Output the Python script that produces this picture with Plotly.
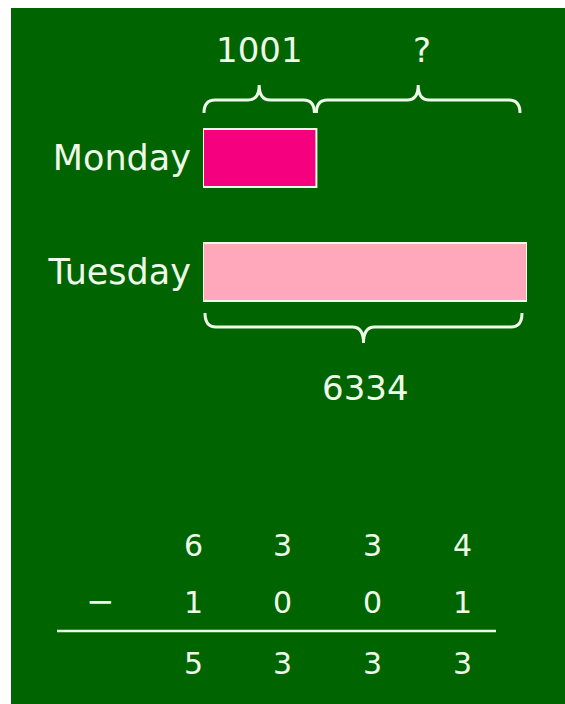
import plotly.graph_objects as go

# ---- data ----
days = ["Monday", "Tuesday"]
day_values = [1001, 6334]          # numbers shown on the braces
bar_units = [3.5, 10.0]            # schematic bar lengths as drawn (not to scale)
bar_colors = ["#f5007f", "#ffa8bb"]
brace_labels = ["1001", "?"]
total_label = "6334"
row_top = ["6", "3", "3", "4"]
row_mid = ["1", "0", "0", "1"]
row_res = ["5", "3", "3", "3"]
op_sign = "\u2212"

W, H = 565, 704
GREEN = "#006400"
CREAM = "#eefbe8"
FONT = "DejaVu Sans"

# bar axis geometry (pixels)
BX0, BX1 = 203, 527
BY0, BY1 = 101, 329
UNIT_MAX = 10.0
px_per_unit = (BX1 - BX0) / UNIT_MAX

fig = go.Figure()
fig.add_trace(go.Bar(
    y=days, x=bar_units, orientation="h",
    marker=dict(color=bar_colors, line=dict(color=CREAM, width=2)),
    xaxis="x2", yaxis="y2", hoverinfo="skip", showlegend=False,
))

def brace(x0, x1, yend, yh, ytip, r=11):
    xm = (x0 + x1) / 2
    return (f"M {x0},{yend} Q {x0},{yh} {x0 + r},{yh} L {xm - r},{yh} "
            f"Q {xm},{yh} {xm},{ytip} Q {xm},{yh} {xm + r},{yh} "
            f"L {x1 - r},{yh} Q {x1},{yh} {x1},{yend}")

mon_end = BX0 + bar_units[0] * px_per_unit
tue_end = BX0 + bar_units[1] * px_per_unit

shapes = [dict(type="rect", xref="x", yref="y", x0=11, x1=W, y0=8, y1=H,
               fillcolor=GREEN, line=dict(width=0), layer="below")]
bline = dict(color=CREAM, width=3)
shapes.append(dict(type="path", xref="x", yref="y",
                   path=brace(BX0 + 1, mon_end - 2, 113, 100, 85), line=bline))
shapes.append(dict(type="path", xref="x", yref="y",
                   path=brace(mon_end, tue_end - 7, 113, 100, 85), line=bline))
shapes.append(dict(type="path", xref="x", yref="y",
                   path=brace(BX0 + 2, tue_end - 5, 313, 327, 343), line=bline))
shapes.append(dict(type="line", xref="x", yref="y", x0=57, x1=496, y0=631, y1=631,
                   line=dict(color=CREAM, width=2.5)))

ann = []
big = dict(family=FONT, size=34, color=CREAM)
dig = dict(family=FONT, size=30, color=CREAM)
ann.append(dict(x=(BX0 + mon_end) / 2, y=50, text=brace_labels[0]))
ann.append(dict(x=(mon_end + tue_end) / 2, y=50, text=brace_labels[1]))
ann.append(dict(x=(BX0 + tue_end) / 2, y=388, text=total_label))
for a in ann:
    a.update(xref="x", yref="y", showarrow=False, font=big)

col_x0, col_step = 193, 89.7
for row, yy in ((row_top, 545), (row_mid, 602), (row_res, 663)):
    for i, d in enumerate(row):
        ann.append(dict(x=col_x0 + i * col_step, y=yy, text=d, xref="x", yref="y",
                        showarrow=False, font=dig))
ann.append(dict(x=100, y=601, text=op_sign, xref="x", yref="y",
                showarrow=False, font=dict(family=FONT, size=34, color=CREAM)))

fig.update_layout(
    width=W, height=H,
    margin=dict(l=0, r=0, t=0, b=0),
    paper_bgcolor="white", plot_bgcolor="rgba(0,0,0,0)",
    xaxis=dict(range=[0, W], domain=[0, 1], visible=False, fixedrange=True),
    yaxis=dict(range=[H, 0], domain=[0, 1], visible=False, fixedrange=True),
    xaxis2=dict(range=[0, UNIT_MAX], domain=[BX0 / W, BX1 / W], anchor="y2",
                visible=False, fixedrange=True),
    yaxis2=dict(domain=[1 - BY1 / H, 1 - BY0 / H], anchor="x2",
                autorange="reversed", showgrid=False, zeroline=False, showline=False,
                ticks="", ticklabelstandoff=11,
                tickfont=dict(family=FONT, size=35, color=CREAM), fixedrange=True),
    bargap=0.49,
    shapes=shapes, annotations=ann, showlegend=False,
)

fig.write_html(
    "out.html",
    config={"displayModeBar": False},
    post_script="document.body.style.margin='0';document.body.style.overflow='hidden';",
)
